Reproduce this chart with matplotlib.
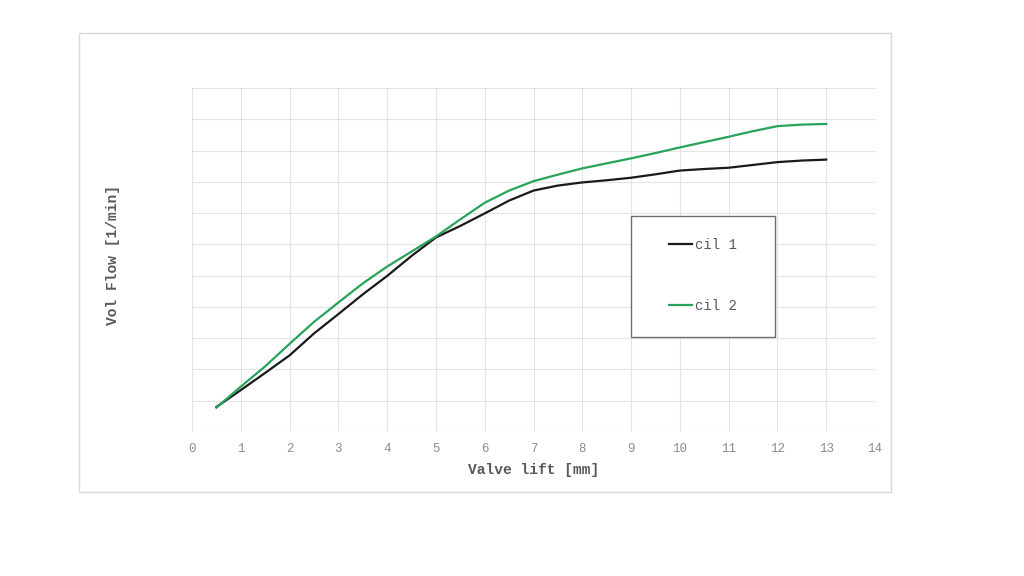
import matplotlib
matplotlib.use("Agg")
import matplotlib.pyplot as plt
from matplotlib.patches import Rectangle

# Data
lift_mm = [0.5, 1, 1.5, 2, 2.5, 3, 3.5, 4, 4.5, 5, 5.5, 6, 6.5, 7, 7.5, 8,
           8.5, 9, 9.5, 10, 10.5, 11, 11.5, 12, 12.5, 13]
cil_1 = [0.80, 1.34, 1.89, 2.45, 3.15, 3.77, 4.40, 4.99, 5.63, 6.22, 6.59, 6.99,
         7.40, 7.72, 7.88, 7.98, 8.05, 8.13, 8.24, 8.36, 8.41, 8.45, 8.54, 8.63,
         8.68, 8.71]
cil_2 = [0.78, 1.45, 2.10, 2.82, 3.52, 4.14, 4.75, 5.29, 5.77, 6.25, 6.80, 7.33,
         7.72, 8.02, 8.23, 8.43, 8.59, 8.75, 8.92, 9.10, 9.27, 9.44, 9.62, 9.78,
         9.83, 9.85]
series_names = ["cil 1", "cil 2"]
x_ticks = list(range(0, 15))
x_label = "Valve lift [mm]"
y_label = "Vol Flow [1/min]"

W, H = 1024, 576
fig = plt.figure(figsize=(W / 100, H / 100), dpi=100)
fig.patch.set_facecolor("white")

# outer chart border
fig.patches.append(Rectangle((79 / W, 1 - 492 / H), 812 / W, 459 / H,
                             transform=fig.transFigure, fill=False,
                             edgecolor="#d9d9d9", linewidth=1.0))

ax = fig.add_axes([192 / W, 1 - 432 / H, (875 - 192) / W, (432 - 88) / H])
ax.set_xlim(0, 14)
ax.set_ylim(0, 11)
ax.set_xticks(x_ticks)
ax.set_yticks(range(0, 12))
ax.set_yticklabels([])
ax.grid(True, color="#e4e4e4", linewidth=0.8)
ax.set_axisbelow(True)
for s in ax.spines.values():
    s.set_visible(False)
ax.tick_params(axis="both", length=0)
ax.tick_params(axis="x", pad=8, labelcolor="#8c8c8c", labelsize=9)
for t in ax.get_xticklabels():
    t.set_fontfamily("Liberation Mono")

l1, = ax.plot(lift_mm, cil_1, color="#1a1a1a", linewidth=1.6, label=series_names[0])
l2, = ax.plot(lift_mm, cil_2, color="#27a35c", linewidth=1.6, label=series_names[1])

ax.set_xlabel(x_label, fontfamily="Liberation Mono", fontweight="bold",
              fontsize=10.5, color="#595959", labelpad=6)
ax.set_ylabel(y_label, fontfamily="Liberation Mono", fontweight="bold",
              fontsize=10.5, color="#595959", labelpad=48)
ax.yaxis.label.set_y(0.515)

# legend box
fig.patches.append(Rectangle((631 / W, 1 - 337 / H), 144 / W, 121 / H,
                             transform=fig.transFigure, fill=True,
                             facecolor="white", edgecolor="#6e6e6e",
                             linewidth=1.0, zorder=3))
leg = fig.legend(handles=[l1, l2], labels=series_names, frameon=False,
                 loc="upper left", bbox_to_anchor=(669 / W, 1 - 238 / H),
                 borderpad=0, borderaxespad=0, handlelength=1.65,
                 handletextpad=0.2, labelspacing=3.35,
                 prop={"family": "Liberation Mono", "size": 10})
leg.set_zorder(4)
for t in leg.get_texts():
    t.set_color("#595959")

fig.savefig("out.png", dpi=100)
